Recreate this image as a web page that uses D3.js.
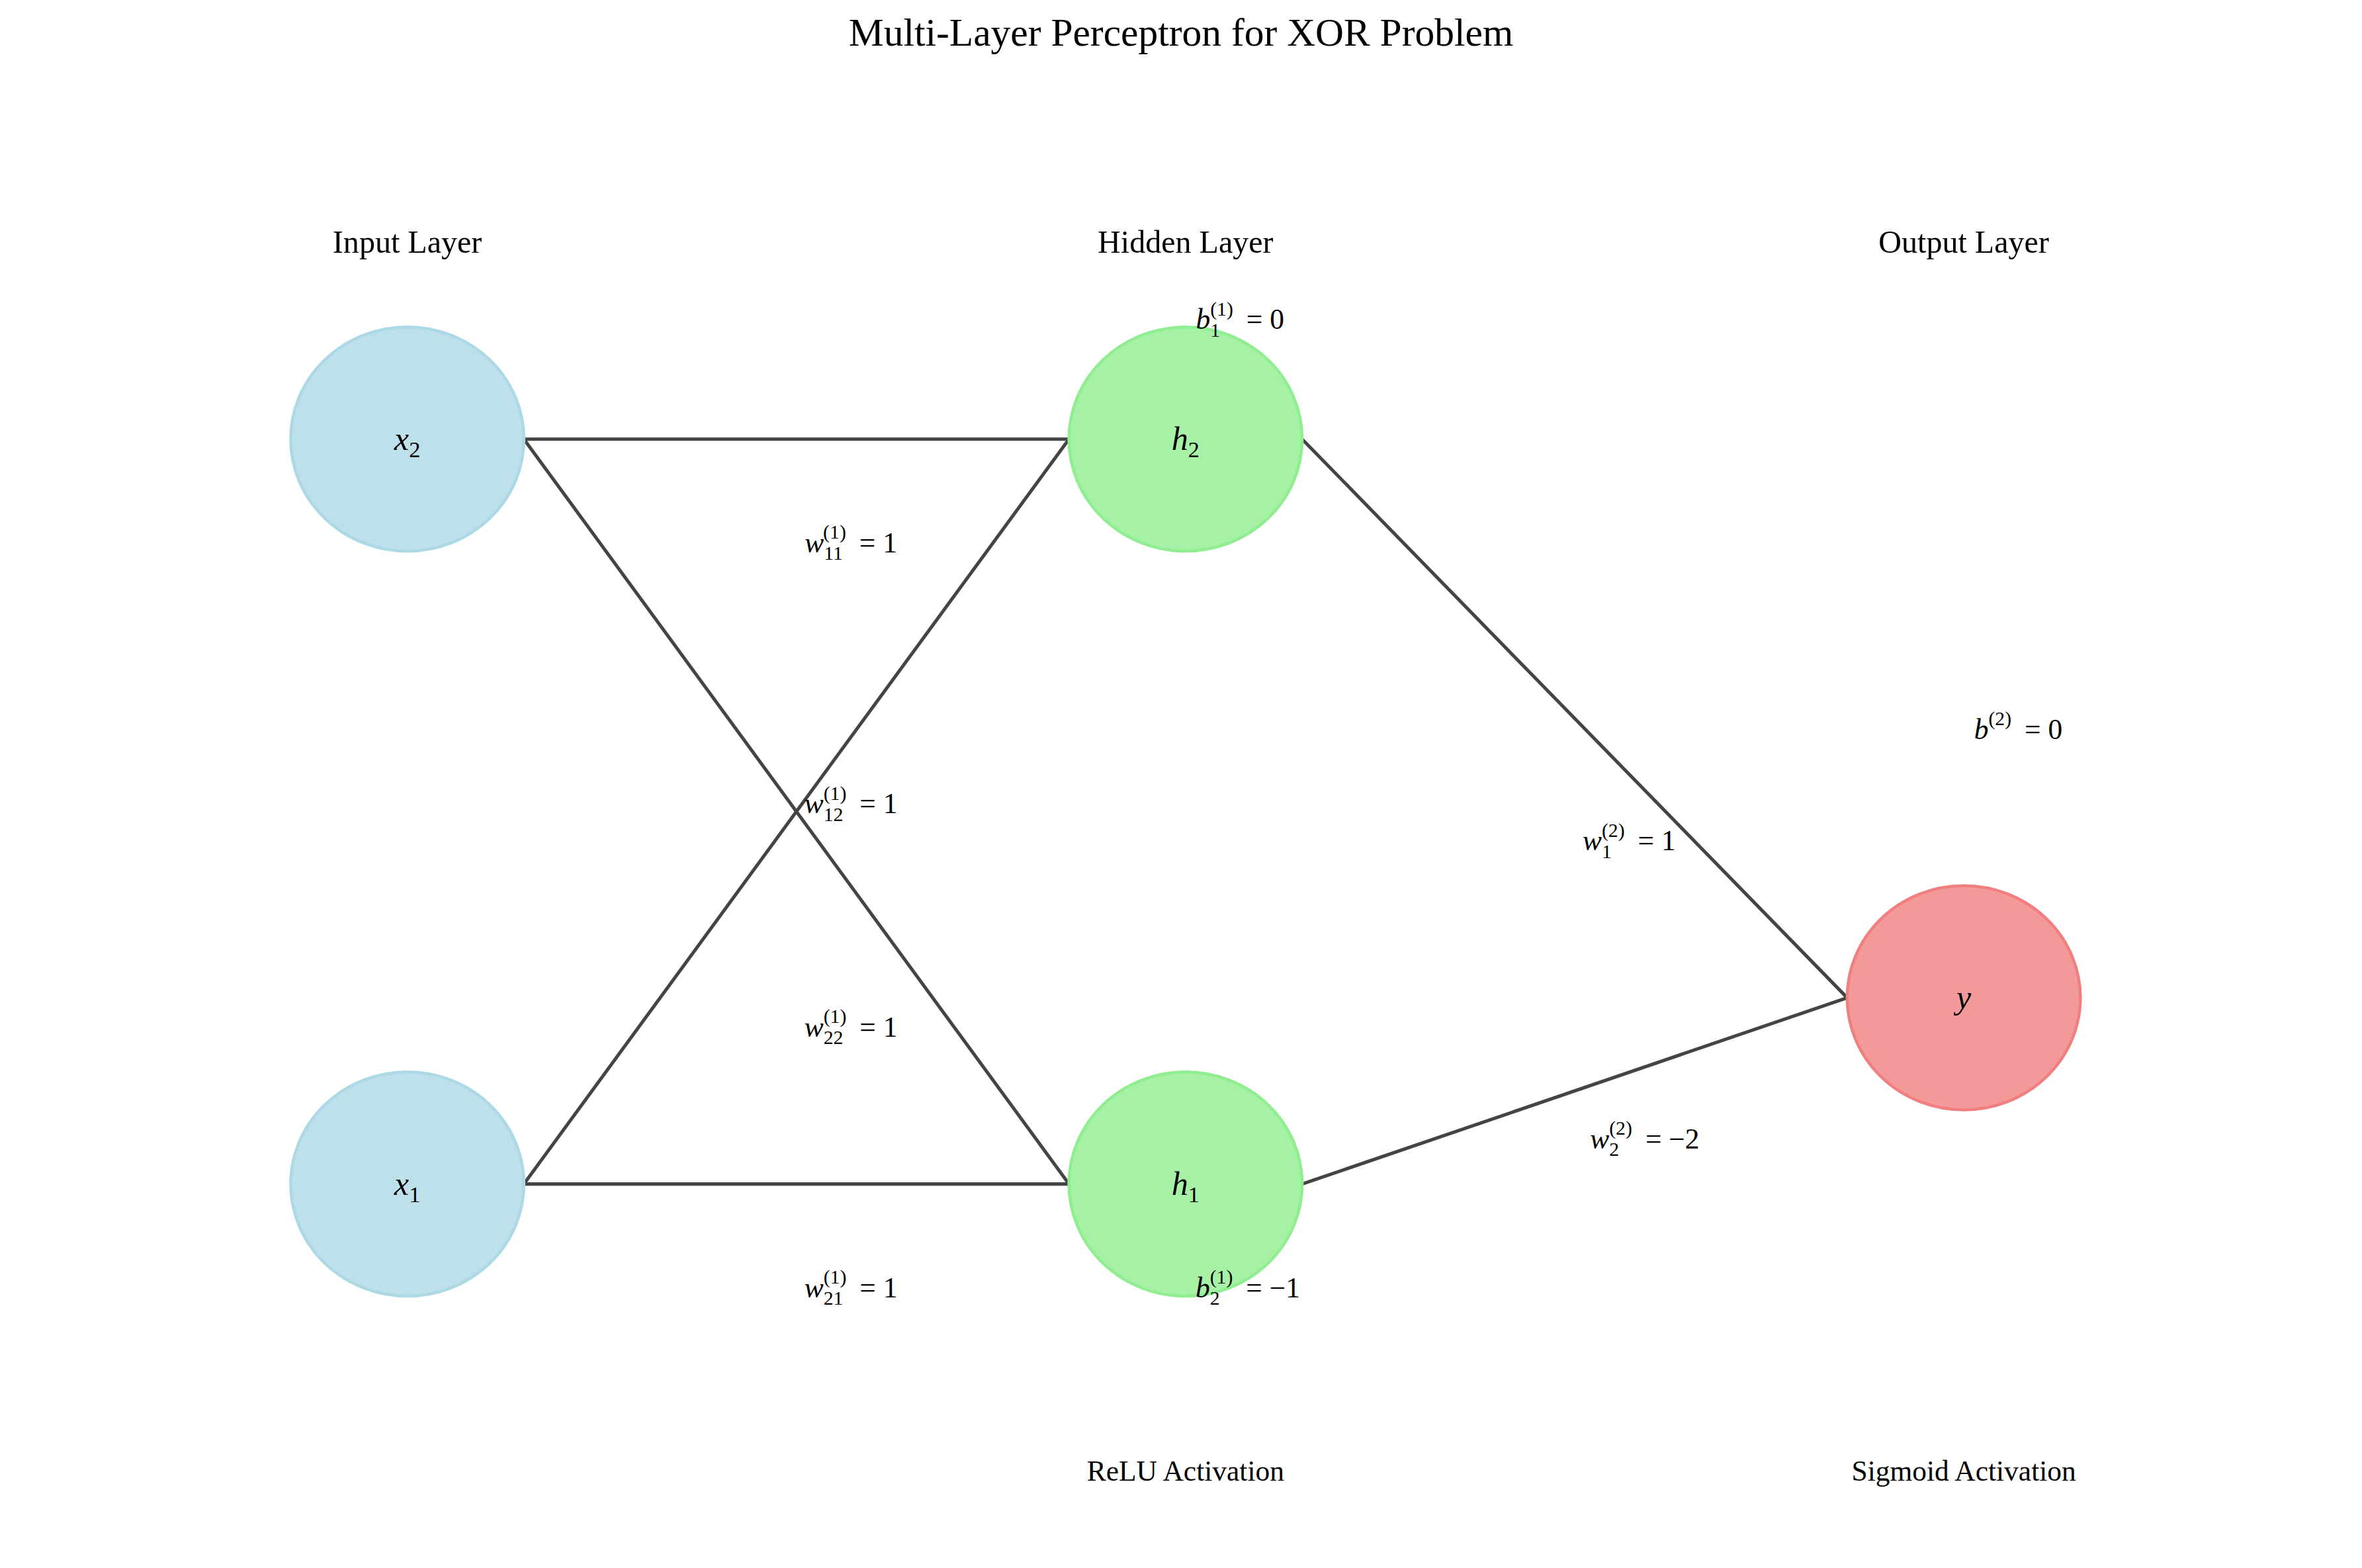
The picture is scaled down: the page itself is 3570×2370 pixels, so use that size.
<!DOCTYPE html>
<html><head><meta charset="utf-8">
<script src="https://cdn.jsdelivr.net/npm/d3@7"></script>
<style>body{margin:0;background:#fff}text{font-family:"Liberation Serif","DejaVu Serif",serif;fill:#000}</style>
</head><body><svg id="chart"></svg>
<script>
// Nodes: layer index and vertical position in data units
const nodeNames = ["x1", "x2", "h1", "h2", "y"];
const nodeLayer = [0, 0, 1, 1, 2];
const nodeY = [0, 1, 0, 1, 0.25];
const nodeColors = ["#add8e6", "#add8e6", "#90ee90", "#90ee90", "#f08080"];
const edges = [["x2","h2"],["x2","h1"],["x1","h2"],["x1","h1"],["h2","y"],["h1","y"]];
const layerNames = ["Input Layer", "Hidden Layer", "Output Layer"];
// weight/bias labels: [base, sub, sup, value, layer x, y]
const labelDefs = [
  ["w","11","(1)","= 1",0.57,0.86],
  ["w","12","(1)","= 1",0.57,0.51],
  ["w","22","(1)","= 1",0.57,0.21],
  ["w","21","(1)","= 1",0.57,-0.14],
  ["w","1","(2)","= 1",1.57,0.46],
  ["w","2","(2)","= −2",1.59,0.06],
  ["b","1","(1)","= 0",1.07,1.16],
  ["b","2","(1)","= −1",1.08,-0.14],
  ["b","","(2)","= 0",2.07,0.61]
];
const activations = [["ReLU Activation",1],["Sigmoid Activation",2]];

const W = 1560, H = 1035.6;
const svg = d3.select("#chart").attr("width",3570).attr("height",2370).attr("viewBox",`0 0 ${W} ${H}`);
const x = d3.scaleLinear().domain([0,2]).range([269,1297]);
const y = d3.scaleLinear().domain([0,1]).range([782,290]);
const rx = 77, ry = 74;

const pos = {};
nodeNames.forEach((n,i) => pos[n] = {x:x(nodeLayer[i]), y:y(nodeY[i])});

svg.append("text").attr("x",W/2).attr("y",30).attr("text-anchor","middle").style("font-size","26px")
  .text("Multi-Layer Perceptron for XOR Problem");

layerNames.forEach((l,i) => svg.append("text").attr("x",x(i)).attr("y",167).attr("text-anchor","middle")
  .style("font-size","21px").text(l));

// edges
svg.selectAll(".edge").data(edges).enter().append("line")
  .attr("x1",d=>pos[d[0]].x+rx).attr("y1",d=>pos[d[0]].y)
  .attr("x2",d=>pos[d[1]].x-rx).attr("y2",d=>pos[d[1]].y)
  .attr("stroke","#444").attr("stroke-width",2.2);

// nodes
const g = svg.selectAll(".node").data(nodeNames).enter().append("g");
g.append("ellipse").attr("cx",d=>pos[d].x).attr("cy",d=>pos[d].y).attr("rx",rx).attr("ry",ry)
  .attr("fill",(d,i)=>nodeColors[i]).attr("fill-opacity",0.8)
  .attr("stroke",(d,i)=>nodeColors[i]).attr("stroke-width",2);
const nt = g.append("text").attr("x",d=>pos[d].x).attr("y",d=>pos[d].y+7).attr("text-anchor","middle").style("font-size","22px");
nt.append("tspan").style("font-style","italic").text(d=>d[0]);
nt.append("tspan").attr("dy",5).style("font-size","15px").text(d=>d.slice(1));

// weight/bias labels
labelDefs.forEach(([b,sub,sup,val,lx,ly]) => {
  const t = svg.append("text").attr("x",x(lx)).attr("y",y(ly)+6).attr("text-anchor","middle").style("font-size","19px");
  t.append("tspan").style("font-style","italic").text(b);
  if (sub) {
    const sx = t.append("tspan").attr("dy",5).style("font-size","13px").text(sub);
  }
  t.append("tspan").attr("dx",sub ? -(sub.length*6.5) : 0).attr("dy",sub ? -14 : -9).style("font-size","13px").text(sup);
  t.append("tspan").attr("dy",sub ? 9 : 9).attr("dx",4).text(" " + val);
});

activations.forEach(([a,l]) => svg.append("text").attr("x",x(l)).attr("y",978).attr("text-anchor","middle")
  .style("font-size","19px").text(a));
</script></body></html>
